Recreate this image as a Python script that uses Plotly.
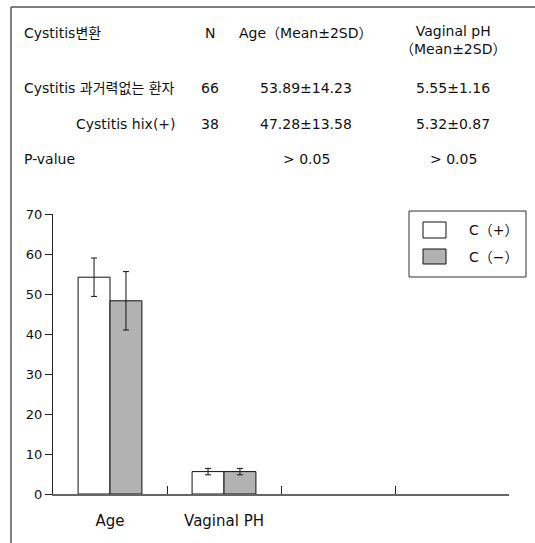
import plotly.graph_objects as go

W, H = 535, 543

categories = ["Age", "Vaginal PH", " ", "  "]
series_names = ["C（+）", "C（−）"]
bar_x = ["Age", "Vaginal PH"]
c_pos_values = [54.2, 5.6]
c_pos_err = [4.8, 0.8]
c_neg_values = [48.3, 5.6]
c_neg_err = [7.3, 0.8]
y_ticks = [0, 10, 20, 30, 40, 50, 60, 70]

table_header = ["Cystitis변환", "N", "Age（Mean±2SD）", "Vaginal pH<br>（Mean±2SD）"]
table_rows = [
    ["Cystitis 과거력없는 환자", "66", "53.89±14.23", "5.55±1.16"],
    ["Cystitis hix(+)", "38", "47.28±13.58", "5.32±0.87"],
    ["P-value", "", "> 0.05", "> 0.05"],
]

FONT = "DejaVu Sans, Noto Sans CJK KR, sans-serif"
fills = ["#ffffff", "#b2b2b2"]


def px(x):
    return x / W


def py(y):
    return 1 - y / H


fig = go.Figure()
for name, vals, errs, fill in zip(series_names, [c_pos_values, c_neg_values],
                                  [c_pos_err, c_neg_err], fills):
    fig.add_trace(go.Bar(
        x=bar_x, y=vals, name=name,
        marker=dict(color=fill, line=dict(color="#111111", width=1)),
        error_y=dict(type="data", array=errs, visible=True,
                     color="#111111", thickness=1, width=3),
        showlegend=False,
    ))

annotations = []


def note(x, y, text, anchor, size=14):
    annotations.append(dict(x=px(x), y=py(y), xref="paper", yref="paper", text=text,
                            xanchor=anchor, yanchor="middle", showarrow=False,
                            font=dict(size=size)))


col_x = [22, 210, 306, 453]
row_y = [33, 88, 124, 159]
for j, t in enumerate(table_header):
    if j == 0:
        note(col_x[0], row_y[0], t, "left")
    elif j == 3:
        note(col_x[3], 40, t, "center")
    else:
        note(col_x[j], row_y[0], t, "center")
for i, row in enumerate(table_rows):
    yy = row_y[i + 1]
    for j, t in enumerate(row):
        if not t:
            continue
        if j == 0:
            if i == 1:
                note(178, yy, t, "right")
            else:
                note(col_x[0], yy, t, "left")
        else:
            note(col_x[j], yy, t, "center")

shapes = [
    dict(type="line", xref="paper", yref="paper", x0=px(11), x1=px(535), y0=py(7), y1=py(7),
         line=dict(color="#555555", width=1.5)),
    dict(type="line", xref="paper", yref="paper", x0=px(11), x1=px(11), y0=py(7), y1=py(543),
         line=dict(color="#555555", width=1.5)),
    dict(type="rect", xref="paper", yref="paper", x0=px(409), x1=px(526), y0=py(211), y1=py(277),
         line=dict(color="#333333", width=1), fillcolor="white"),
]
leg_y = [[222, 238], [249, 264]]
for k, name in enumerate(series_names):
    shapes.append(dict(type="rect", xref="paper", yref="paper", x0=px(423), x1=px(446),
                       y0=py(leg_y[k][0]), y1=py(leg_y[k][1]),
                       line=dict(color="#111111", width=1), fillcolor=fills[k]))
    note(467, (leg_y[k][0] + leg_y[k][1]) / 2, name, "left")

fig.update_layout(
    width=W, height=H,
    margin=dict(l=0, r=0, t=0, b=0, pad=0, autoexpand=False),
    paper_bgcolor="white", plot_bgcolor="white",
    font=dict(family=FONT, size=14, color="#111111"),
    barmode="group", bargap=0.44, bargroupgap=0,
    showlegend=False,
    xaxis=dict(domain=[px(53), px(509)], type="category", automargin=False,
               categoryorder="array", categoryarray=categories,
               range=[-0.5, 3.5], tickson="boundaries", ticks="inside", ticklen=8,
               tickcolor="#222222", showline=True, linecolor="#666666", linewidth=1.5,
               showgrid=False, zeroline=False, ticklabelstandoff=12,
               tickfont=dict(size=15)),
    yaxis=dict(domain=[py(494), py(214)], range=[0, 70], tickvals=y_ticks, automargin=False,
               ticks="outside", ticklen=7, tickcolor="#222222", showline=True,
               linecolor="#222222", linewidth=1, showgrid=False, zeroline=False,
               tickfont=dict(size=13)),
    shapes=shapes,
    annotations=annotations,
)

fig.write_html("out.html", config={"displayModeBar": False},
               post_script="document.body.style.margin='0';")
